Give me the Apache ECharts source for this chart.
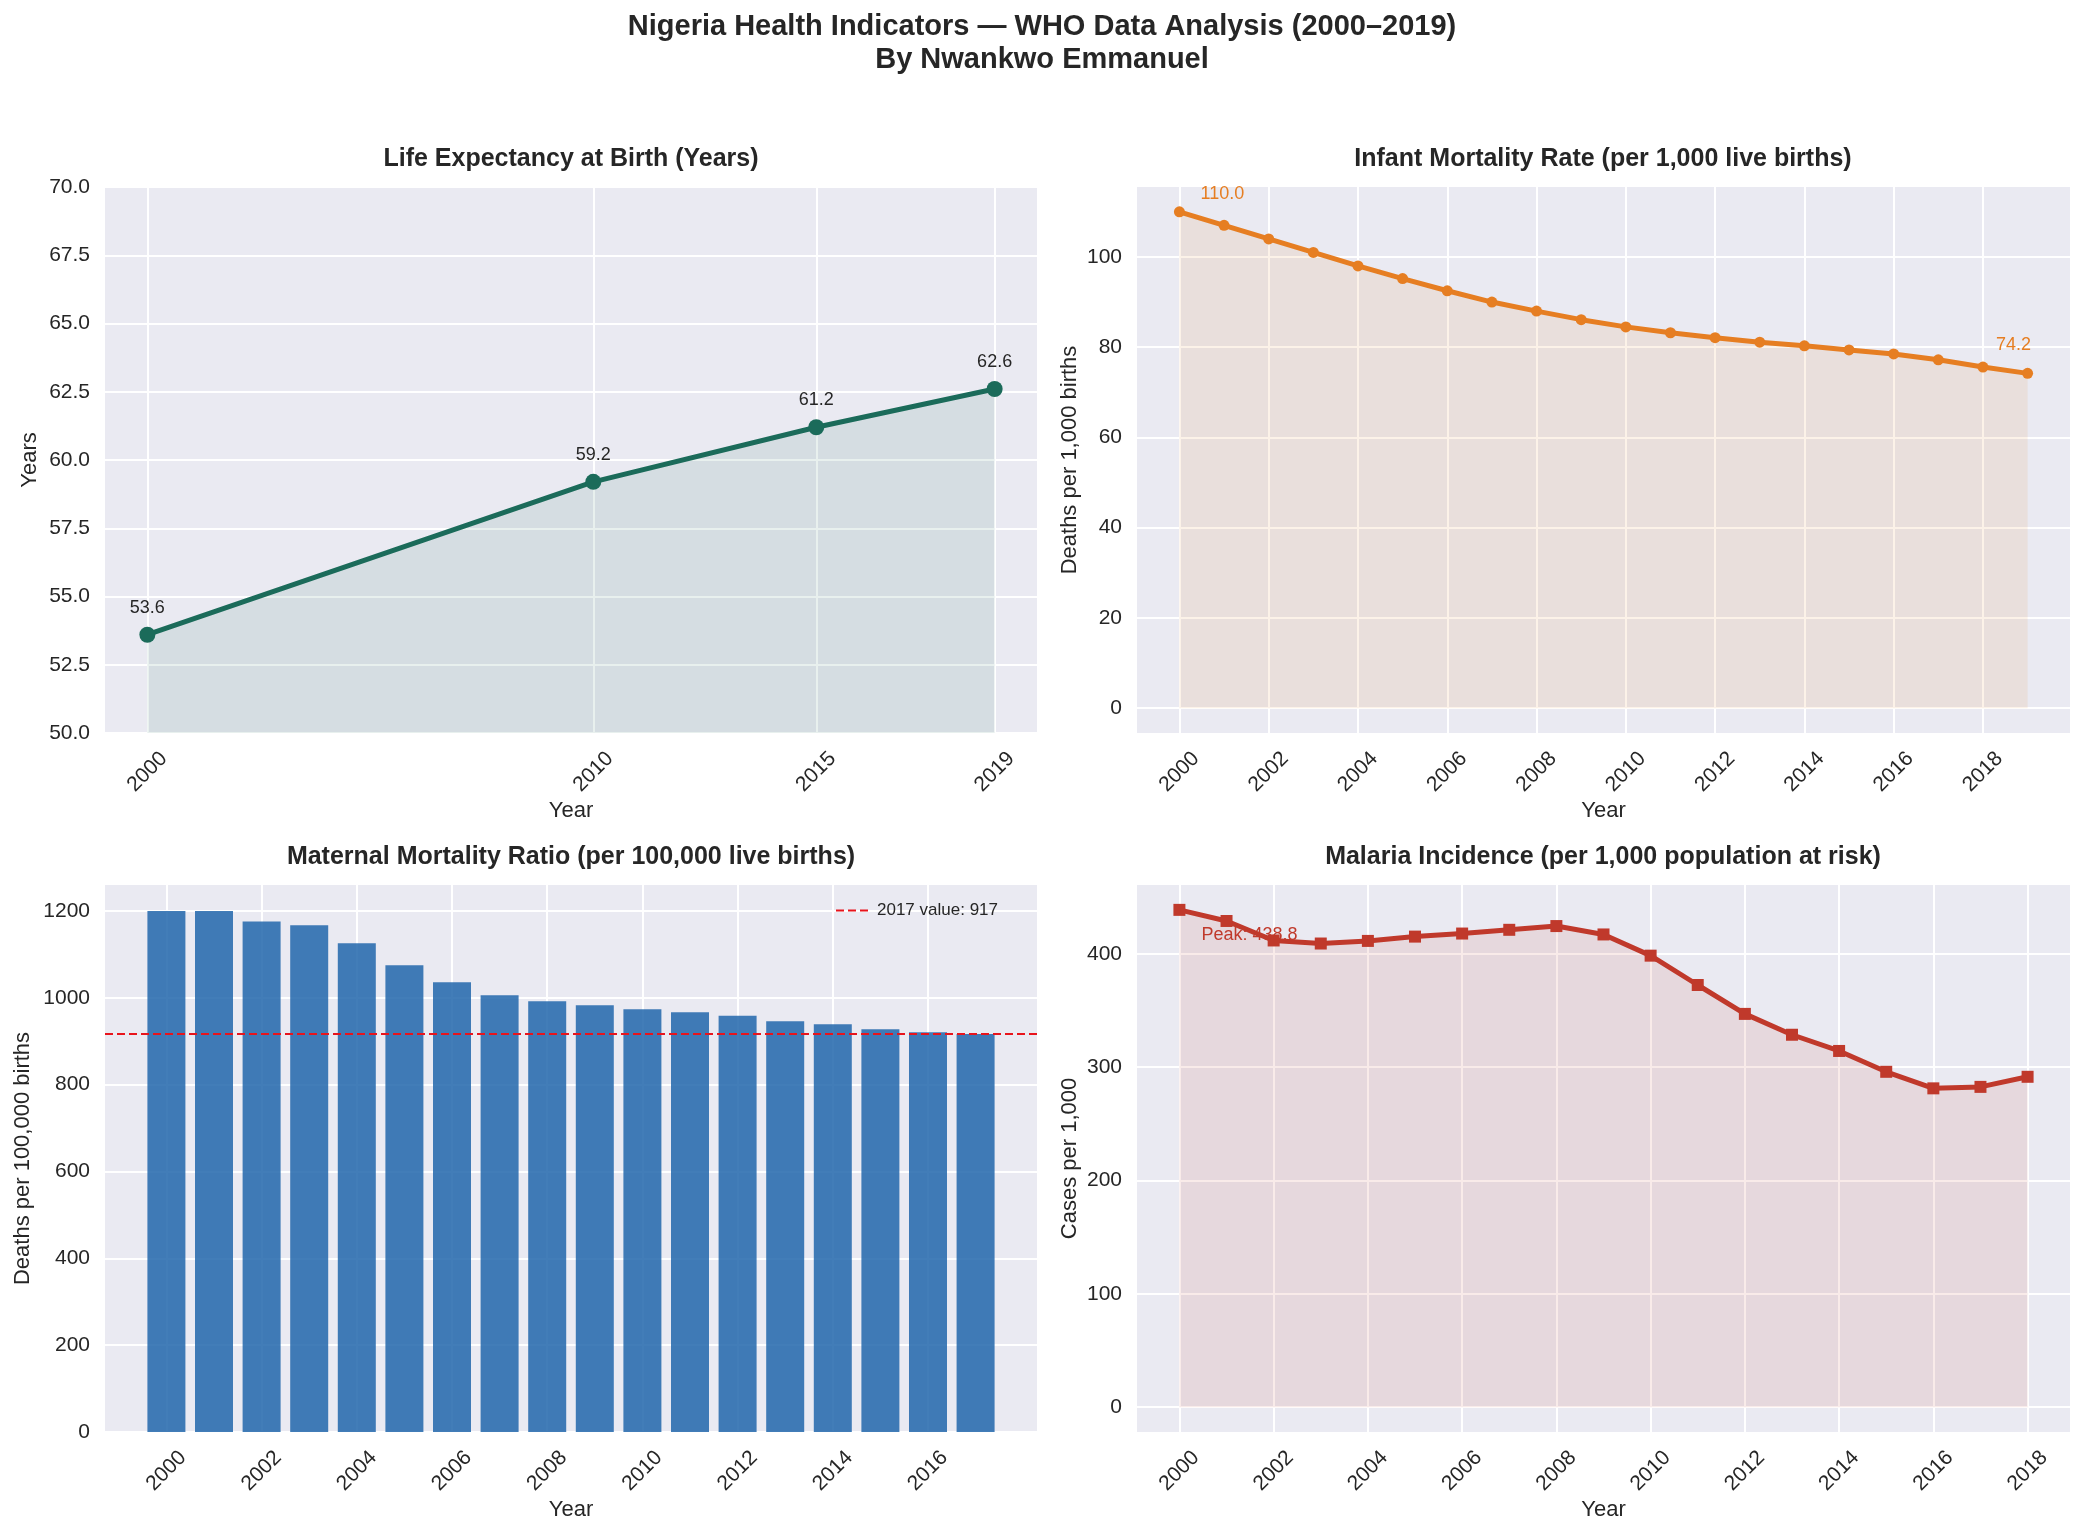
<!DOCTYPE html>
<html>
<head>
<meta charset="utf-8">
<title>Nigeria Health Indicators</title>
<script src="https://cdn.jsdelivr.net/npm/echarts@6/dist/echarts.min.js"></script>
<style>
  html, body { margin: 0; padding: 0; background: #fff; }
  #chart { width: 2084px; height: 1537px; }
</style>
</head>
<body>
<div id="chart"></div>
<script>
// life expectancy (only 4 survey years)
var lifeYears = [2000, 2010, 2015, 2019];
var lifeValues = [53.6, 59.2, 61.2, 62.6];
var lifeTicksY = [50, 52.5, 55, 57.5, 60, 62.5, 65, 67.5, 70];

// infant mortality
var infantYears = [2000, 2001, 2002, 2003, 2004, 2005, 2006, 2007, 2008, 2009,
  2010, 2011, 2012, 2013, 2014, 2015, 2016, 2017, 2018, 2019];
var infantValues = [110.0, 107.0, 104.0, 101.0, 98.0, 95.2, 92.5, 90.0, 88.0, 86.1,
  84.5, 83.2, 82.1, 81.1, 80.3, 79.4, 78.5, 77.2, 75.6, 74.2];
var infantTicksX = [2000, 2002, 2004, 2006, 2008, 2010, 2012, 2014, 2016, 2018];
var infantTicksY = [0, 20, 40, 60, 80, 100];

// maternal mortality
var mmrYears = [2000, 2001, 2002, 2003, 2004, 2005, 2006, 2007, 2008,
  2009, 2010, 2011, 2012, 2013, 2014, 2015, 2016, 2017];
var mmrValues = [1200, 1200, 1176, 1167, 1126, 1075, 1036, 1006, 992,
  983, 974, 967, 959, 946, 939, 928, 921, 917];
var mmrRefYear = 2017;
var mmrRefValue = 917;
var mmrTicksX = [2000, 2002, 2004, 2006, 2008, 2010, 2012, 2014, 2016];
var mmrTicksY = [0, 200, 400, 600, 800, 1000, 1200];

// malaria incidence
var malariaYears = [2000, 2001, 2002, 2003, 2004, 2005, 2006, 2007, 2008, 2009,
  2010, 2011, 2012, 2013, 2014, 2015, 2016, 2017, 2018];
var malariaValues = [438.8, 429.0, 411.8, 409.1, 411.4, 415.2, 417.9, 421.2, 424.5, 417.1,
  398.4, 372.5, 347.0, 328.6, 314.3, 295.9, 281.3, 282.6, 291.5];
var malariaTicksX = [2000, 2002, 2004, 2006, 2008, 2010, 2012, 2014, 2016, 2018];
var malariaTicksY = [0, 100, 200, 300, 400];

var FONT = '"Liberation Sans", Arial, sans-serif';
var TEXT = '#262626';

var grids = [
  { left: 105, top: 187, width: 932, height: 546 },
  { left: 1137, top: 187, width: 933, height: 546 },
  { left: 105, top: 885, width: 932, height: 547 },
  { left: 1137, top: 885, width: 933, height: 547 }
];

// matplotlib style 5% padding
function pad(lo, hi) {
  var m = (hi - lo) * 0.05;
  return [lo - m, hi + m];
}

function xAxis(i, range, ticks) {
  return {
    type: 'value', gridIndex: i, min: range[0], max: range[1],
    name: 'Year', nameLocation: 'middle', nameGap: 67,
    nameTextStyle: { fontFamily: FONT, fontSize: 22, color: TEXT },
    axisLine: { show: false },
    axisTick: { show: false, customValues: ticks },
    axisLabel: {
      customValues: ticks, rotate: 45, align: 'center', verticalAlign: 'middle',
      margin: 39, fontFamily: FONT, fontSize: 21, color: TEXT,
      formatter: function (v) { return String(Math.round(v)); }
    },
    splitLine: { show: true, lineStyle: { color: '#ffffff', width: 2 } }
  };
}

function yAxis(i, range, ticks, name, gap, digits) {
  return {
    type: 'value', gridIndex: i, min: range[0], max: range[1],
    name: name, nameLocation: 'middle', nameGap: gap,
    nameTextStyle: { fontFamily: FONT, fontSize: 22, color: TEXT },
    axisLine: { show: false },
    axisTick: { show: false, customValues: ticks },
    axisLabel: {
      customValues: ticks, margin: 15, fontFamily: FONT, fontSize: 21, color: TEXT,
      formatter: function (v) { return v.toFixed(digits); }
    },
    splitLine: { show: true, lineStyle: { color: '#ffffff', width: 2 } }
  };
}

function pairs(xs, ys) {
  return xs.map(function (x, i) { return [x, ys[i]]; });
}

var lifeColor = '#1b6b5a';
var infantColor = '#e67e22';
var mmrColor = '#2166ac';
var malariaColor = '#c0392b';

var infantData = pairs(infantYears, infantValues).map(function (p, i) {
  if (i === 0) {
    return { value: p, label: { show: true, offset: [43, -18] } };
  }
  if (i === infantValues.length - 1) {
    return { value: p, label: { show: true, offset: [-14, -28] } };
  }
  return p;
});

var peakIdx = malariaValues.indexOf(Math.max.apply(null, malariaValues));
var malariaData = pairs(malariaYears, malariaValues).map(function (p, i) {
  if (i === peakIdx) {
    return { value: p, label: { show: true, align: 'left', offset: [22, 25] } };
  }
  return p;
});

var subTitles = [
  ['Life Expectancy at Birth (Years)', 571, 159],
  ['Infant Mortality Rate (per 1,000 live births)', 1603, 159],
  ['Maternal Mortality Ratio (per 100,000 live births)', 571, 857],
  ['Malaria Incidence (per 1,000 population at risk)', 1603, 857]
];

var graphics = [
  { type: 'text', x: 1042, y: 27, style: { text: 'Nigeria Health Indicators — WHO Data Analysis (2000–2019)',
    fontFamily: FONT, fontSize: 29, fontWeight: 'bold', fill: TEXT, align: 'center', verticalAlign: 'middle' } },
  { type: 'text', x: 1042, y: 60, style: { text: 'By Nwankwo Emmanuel',
    fontFamily: FONT, fontSize: 29, fontWeight: 'bold', fill: TEXT, align: 'center', verticalAlign: 'middle' } }
].concat(subTitles.map(function (t) {
  return { type: 'text', x: t[1], y: t[2], style: { text: t[0], fontFamily: FONT, fontSize: 25,
    fontWeight: 'bold', fill: TEXT, align: 'center', verticalAlign: 'middle' } };
}));

var chart = echarts.init(document.getElementById('chart'), null, { renderer: 'canvas' });

chart.setOption({
  backgroundColor: '#ffffff',
  animation: false,
  textStyle: { fontFamily: FONT },
  graphic: graphics,
  grid: grids.map(function (g) {
    return Object.assign({ show: true, backgroundColor: '#eaeaf2', borderWidth: 0, containLabel: false, outerBoundsMode: 'none' }, g);
  }),
  legend: {
    data: ['2017 value: 917'],
    left: 830, top: 897,
    itemWidth: 36, itemHeight: 14,
    itemStyle: { opacity: 0 },
    textStyle: { fontFamily: FONT, fontSize: 17, color: TEXT }
  },
  xAxis: [
    xAxis(0, pad(2000, 2019), lifeYears),
    xAxis(1, pad(2000, 2019), infantTicksX),
    xAxis(2, pad(2000 - 0.4, 2017 + 0.4), mmrTicksX),
    xAxis(3, pad(2000, 2018), malariaTicksX)
  ],
  yAxis: [
    yAxis(0, [50, 70], lifeTicksY, 'Years', 64, 1),
    yAxis(1, pad(0, 110), infantTicksY, 'Deaths per 1,000 births', 56, 0),
    yAxis(2, [0, 1260], mmrTicksY, 'Deaths per 100,000 births', 71, 0),
    yAxis(3, pad(0, 438.8), malariaTicksY, 'Cases per 1,000', 56, 0)
  ],
  series: [
    {
      name: 'Life Expectancy', type: 'line', xAxisIndex: 0, yAxisIndex: 0,
      data: pairs(lifeYears, lifeValues),
      symbol: 'circle', symbolSize: 16,
      lineStyle: { color: lifeColor, width: 5 },
      itemStyle: { color: lifeColor },
      areaStyle: { color: lifeColor, opacity: 0.1, origin: 'start' },
      label: {
        show: true, position: 'inside', offset: [0, -27],
        fontFamily: FONT, fontSize: 18, color: TEXT,
        formatter: function (p) { return p.value[1].toFixed(1); }
      }
    },
    {
      name: 'Infant Mortality', type: 'line', xAxisIndex: 1, yAxisIndex: 1,
      data: infantData,
      symbol: 'circle', symbolSize: 11,
      lineStyle: { color: infantColor, width: 5 },
      itemStyle: { color: infantColor },
      areaStyle: { color: infantColor, opacity: 0.1, origin: 'auto' },
      label: {
        show: false, position: 'inside',
        fontFamily: FONT, fontSize: 18, color: infantColor,
        formatter: function (p) { return p.value[1].toFixed(1); }
      }
    },
    {
      name: 'Maternal Mortality', type: 'bar', xAxisIndex: 2, yAxisIndex: 2,
      data: pairs(mmrYears, mmrValues),
      barWidth: 38,
      itemStyle: { color: mmrColor, opacity: 0.85 }
    },
    {
      name: '2017 value: 917', type: 'line', xAxisIndex: 2, yAxisIndex: 2,
      data: [[mmrRefYear, mmrRefValue]],
      symbol: 'none',
      lineStyle: { color: '#e8141c', width: 2, type: [8, 4] },
      itemStyle: { color: '#e8141c' },
      markLine: {
        silent: true, symbol: 'none',
        label: { show: false },
        lineStyle: { color: '#e8141c', width: 2, type: [8, 4] },
        data: [{ yAxis: mmrRefValue }]
      }
    },
    {
      name: 'Malaria Incidence', type: 'line', xAxisIndex: 3, yAxisIndex: 3,
      data: malariaData,
      symbol: 'rect', symbolSize: 12,
      lineStyle: { color: malariaColor, width: 5 },
      itemStyle: { color: malariaColor },
      areaStyle: { color: malariaColor, opacity: 0.1, origin: 'auto' },
      label: {
        show: false, position: 'inside',
        fontFamily: FONT, fontSize: 18, color: malariaColor,
        formatter: function (p) { return 'Peak: ' + p.value[1].toFixed(1); }
      }
    }
  ]
});
</script>
</body>
</html>
